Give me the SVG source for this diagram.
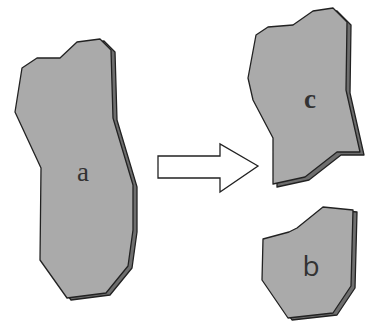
<svg xmlns="http://www.w3.org/2000/svg" width="372" height="325" viewBox="0 0 372 325">
<style>
.sh{fill:#6e6e6e;stroke:#222;stroke-width:1.3;stroke-linejoin:round}
.pc{fill:#aaaaaa;stroke:#222;stroke-width:1.3;stroke-linejoin:round}
.lbl{font-family:"Liberation Serif",serif;fill:#333;text-anchor:middle}
</style>
<rect width="372" height="325" fill="#fff"/>
<g id="piece-a">
<polygon class="sh" transform="translate(4,2)" points="77,42 100,39 111,50 113,118 133,185 133,230 128,266 106,293 67,298 40,260 41,168 15,112 22,68 37,58 60,58"/>
<polygon class="pc" points="77,42 100,39 111,50 113,118 133,185 133,230 128,266 106,293 67,298 40,260 41,168 15,112 22,68 37,58 60,58"/>
<text class="lbl" x="83" y="181" font-size="27">a</text>
</g>
<g id="piece-c">
<polygon class="sh" transform="translate(4,3)" points="313,11 333,8 347,22 346,90 360,152 337,152 305,177 273,184 273,138 253,100 248,78 256,35 268,27 293,25"/>
<polygon class="pc" points="313,11 333,8 347,22 346,90 360,152 337,152 305,177 273,184 273,138 253,100 248,78 256,35 268,27 293,25"/>
<text class="lbl" x="310" y="108" font-size="27" font-weight="bold">c</text>
</g>
<g id="piece-b">
<polygon class="sh" transform="translate(4,2)" points="323,207 353,210 351,286 333,313 288,318 262,280 263,239 289,232 297,228"/>
<polygon class="pc" points="323,207 353,210 351,286 333,313 288,318 262,280 263,239 289,232 297,228"/>
<text x="311" y="276" font-size="28" font-family="'Open Sans','Liberation Sans',sans-serif" fill="#333" text-anchor="middle">b</text>
</g>
<g id="connectors">
<polygon points="158,156 220,156 220,144 258,166 220,192 220,178 158,178" fill="#fff" stroke="#222" stroke-width="1.3" stroke-linejoin="miter"/>
</g>
</svg>
